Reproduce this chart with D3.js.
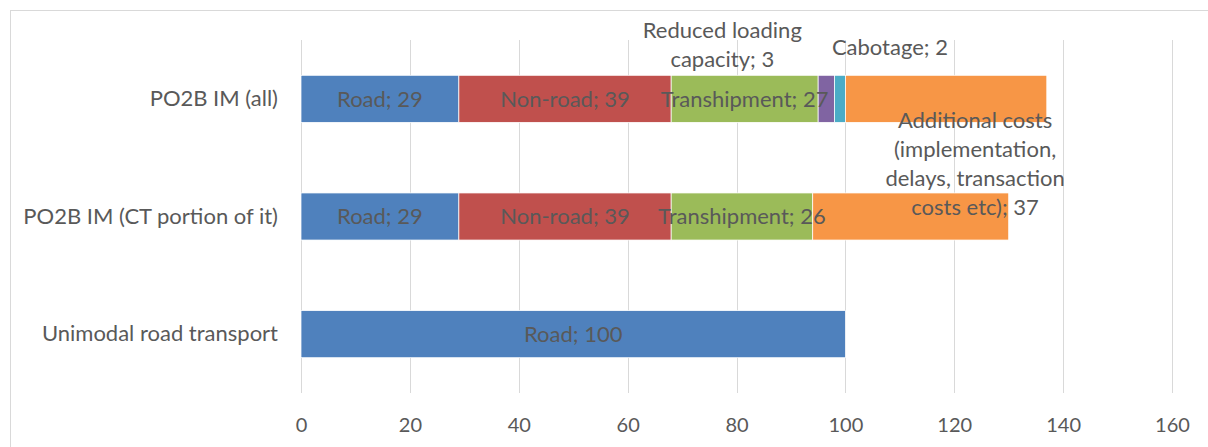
<!DOCTYPE html>
<html>
<head>
<meta charset="utf-8">
<script src="https://cdn.jsdelivr.net/npm/d3@7"></script>
<style>
  html, body { margin: 0; padding: 0; background: #ffffff; }
  svg { display: block; }
  text { font-family: Lato, "Open Sans", sans-serif; fill: #595959; }
</style>
</head>
<body>
<svg id="chart" width="1208" height="447"></svg>
<script>
// Cost comparison: unimodal road vs. PO2B intermodal (index, road = 100)
const categories = ["PO2B IM (all)", "PO2B IM (CT portion of it)", "Unimodal road transport"];
const seriesNames = [
  "Road",
  "Non-road",
  "Transhipment",
  "Reduced loading capacity",
  "Cabotage",
  "Additional costs (implementation, delays, transaction costs etc)"
];
const road            = [29, 29, 100];
const nonRoad         = [39, 39, 0];
const transhipment    = [27, 26, 0];
const reducedLoading  = [3, 0, 0];
const cabotage        = [2, 0, 0];
const additionalCosts = [37, 36, 0];
const xTickValues     = [0, 20, 40, 60, 80, 100, 120, 140, 160];

const seriesColors = ["#4F81BD", "#C0504D", "#9BBB59", "#8064A2", "#4BACC6", "#F79646"];

// rows for the stack layout
const seriesValues = [road, nonRoad, transhipment, reducedLoading, cabotage, additionalCosts];
const rows = categories.map((c, i) => {
  const r = { category: c };
  seriesNames.forEach((s, k) => { r[s] = seriesValues[k][i]; });
  return r;
});

// labels that sit away from their segment (pixel offsets from segment centre)
const movedLabels = {
  "Reduced loading capacity|PO2B IM (all)": { dx: -104, dy: -54 },
  "Cabotage|PO2B IM (all)": { dx: 50, dy: -52 },
  "Additional costs (implementation, delays, transaction costs etc)|PO2B IM (all)": { dx: 29, dy: 65 }
};
const hiddenLabels = new Set([
  "Additional costs (implementation, delays, transaction costs etc)|PO2B IM (CT portion of it)"
]);

const svg = d3.select("#chart");
const margin = { left: 301, top: 40 };
const labelFont = "22px";
const tickFont = "20px";

// outer chart frame
svg.append("rect")
  .attr("x", 10.5).attr("y", 10.5)
  .attr("width", 1220).attr("height", 460)
  .attr("fill", "none").attr("stroke", "#d9d9d9").attr("stroke-width", 1);

const x = d3.scaleLinear().domain([0, 160]).range([margin.left, 1172]);
const y = d3.scaleBand().domain(categories).range([margin.top, 393])
  .paddingInner(0.6).paddingOuter(0.3);

// vertical gridlines
svg.append("g")
  .selectAll("line")
  .data(xTickValues)
  .join("line")
  .attr("x1", d => Math.round(x(d)) + 0.5)
  .attr("x2", d => Math.round(x(d)) + 0.5)
  .attr("y1", margin.top).attr("y2", 393)
  .attr("stroke", "#d9d9d9").attr("stroke-width", 1);

// x axis labels
const xAxis = d3.axisBottom(x).tickValues(xTickValues).tickSize(0).tickPadding(0);
const gx = svg.append("g").attr("transform", "translate(0,425)").call(xAxis);
gx.select(".domain").remove();
gx.selectAll("text")
  .attr("dy", "0.35em")
  .attr("y", 0)
  .style("font-size", tickFont)
  .style("font-family", "Lato, 'Open Sans', sans-serif")
  .attr("fill", "#595959");

// category labels
const yAxis = d3.axisLeft(y).tickSize(0).tickPadding(0);
const gy = svg.append("g").attr("transform", "translate(278,0)").call(yAxis);
gy.select(".domain").remove();
gy.selectAll("text")
  .style("font-size", labelFont)
  .style("font-family", "Lato, 'Open Sans', sans-serif")
  .attr("fill", "#595959");

// stacked bars
const stacked = d3.stack().keys(seriesNames)(rows);

const layers = svg.append("g")
  .selectAll("g")
  .data(stacked)
  .join("g")
  .attr("fill", (d, i) => seriesColors[i]);

layers.selectAll("rect")
  .data(d => d.filter(p => p[1] - p[0] > 0))
  .join("rect")
  .attr("x", d => x(d[0]))
  .attr("width", d => x(d[1]) - x(d[0]))
  .attr("y", d => y(d.data.category))
  .attr("height", y.bandwidth())
  .attr("stroke", "#ffffff")
  .attr("stroke-width", 0.75);

// data labels
const lineHeight = 29;
const wrapWidth = 195;
const labelLayer = svg.append("g");

function wrapWords(textSel, str, maxW) {
  const words = str.split(" ");
  const lines = [];
  let cur = "";
  const probe = textSel.append("tspan");
  words.forEach(w => {
    const trial = cur ? cur + " " + w : w;
    probe.text(trial);
    if (cur && probe.node().getComputedTextLength() > maxW) {
      lines.push(cur);
      cur = w;
    } else {
      cur = trial;
    }
  });
  if (cur) lines.push(cur);
  probe.remove();
  return lines;
}

stacked.forEach((layer) => {
  layer.forEach(p => {
    const v = p[1] - p[0];
    if (v <= 0) return;
    const key = layer.key + "|" + p.data.category;
    if (hiddenLabels.has(key)) return;
    const cx = (x(p[0]) + x(p[1])) / 2;
    const cy = y(p.data.category) + y.bandwidth() / 2;
    const label = layer.key + "; " + v;
    const t = labelLayer.append("text")
      .attr("text-anchor", "middle")
      .style("font-size", labelFont);
    if (movedLabels[key]) {
      const off = movedLabels[key];
      const lines = wrapWords(t, label, wrapWidth);
      const top = cy + off.dy - (lines.length - 1) * lineHeight / 2;
      lines.forEach((ln, i) => {
        t.append("tspan")
          .attr("x", cx + off.dx)
          .attr("y", top + i * lineHeight)
          .attr("dy", "0.35em")
          .text(ln);
      });
    } else {
      t.attr("x", cx).attr("y", cy).attr("dy", "0.35em").text(label);
    }
  });
});
</script>
</body>
</html>
